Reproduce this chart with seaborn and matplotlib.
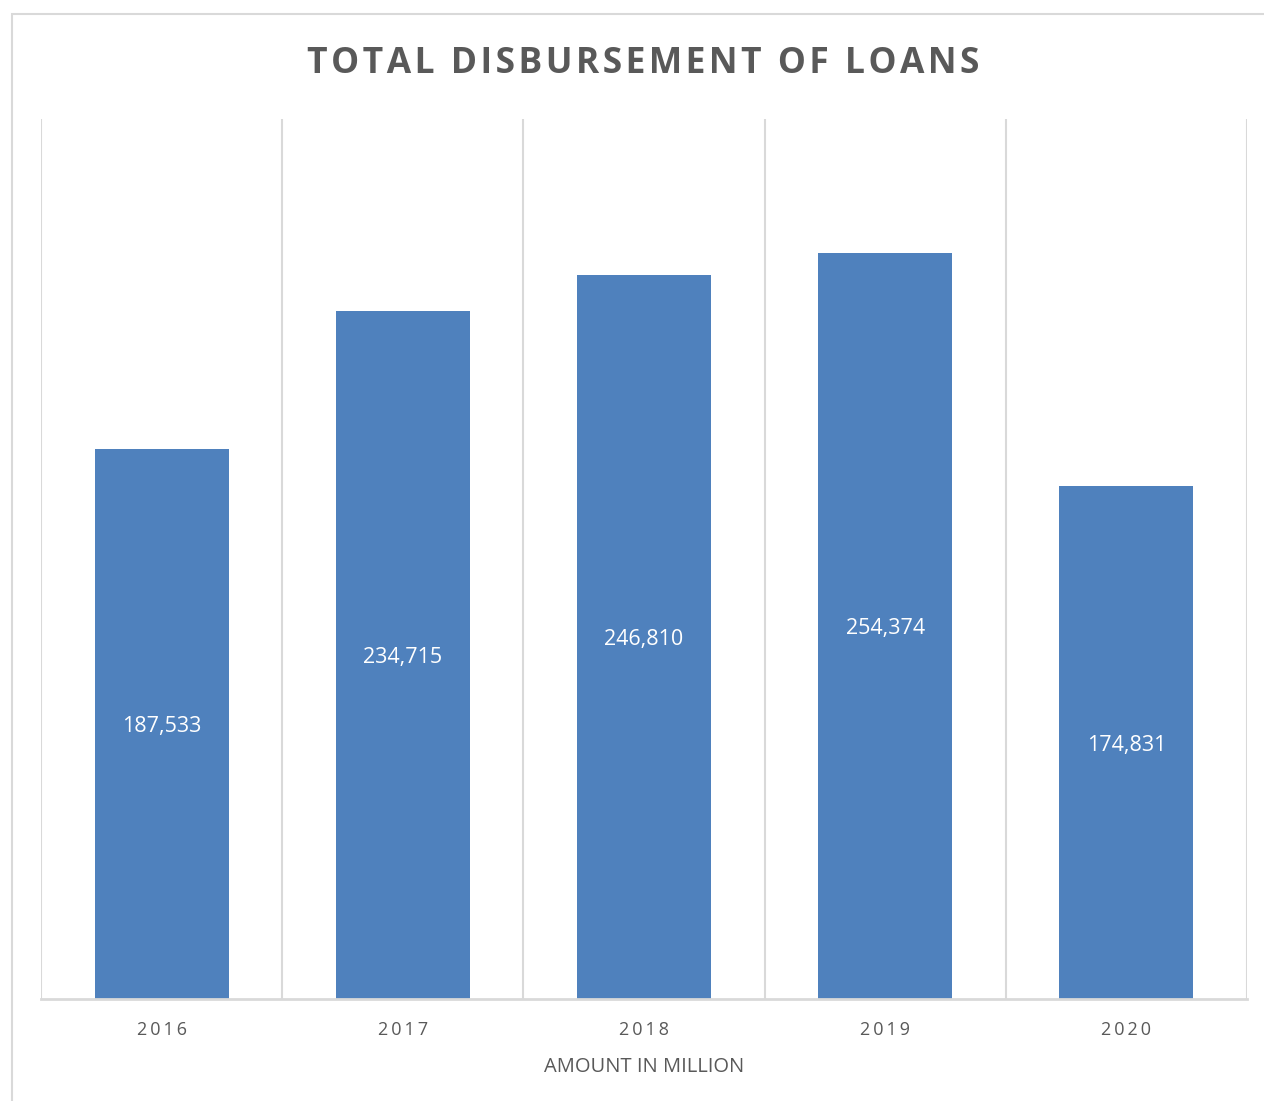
import matplotlib
matplotlib.use("Agg")
import matplotlib.pyplot as plt
import seaborn as sns
import pandas as pd
from matplotlib.patches import Rectangle

years = ["2016", "2017", "2018", "2019", "2020"]
amounts = [187533, 234715, 246810, 254374, 174831]
title = "TOTAL DISBURSEMENT OF LOANS"
xlabel = "AMOUNT IN MILLION"

sns.set_theme(style="white")
plt.rcParams['font.family'] = ['Open Sans', 'DejaVu Sans']

W, H = 1264, 1101
fig = plt.figure(figsize=(W / 100, H / 100), dpi=100)
ax = fig.add_axes([41 / W, 1 - 999 / H, (1247 - 41) / W, (999 - 119) / H])

df = pd.DataFrame({"year": years, "amount": amounts})
sns.barplot(data=df, x="year", y="amount", color="#4f81bd", saturation=1,
            width=0.556, ax=ax, edgecolor="none")

ax.set_ylim(0, 300000)
ax.set_xlim(-0.5, len(years) - 0.5)

grid_c = "#d9d9d9"
for b in range(len(years) + 1):
    ax.axvline(b - 0.5, color=grid_c, lw=1.5, zorder=0)

for s in ["top", "right", "left"]:
    ax.spines[s].set_visible(False)
ax.spines["bottom"].set_color(grid_c)
ax.spines["bottom"].set_linewidth(2)

ax.set_yticks([])
ax.set_ylabel("")
spaced = ["\u2009".join(list(y)) for y in years]
ax.set_xticks(range(len(years)))
ax.set_xticklabels(spaced, fontsize=13, color="#595959")
ax.tick_params(axis="x", length=0, pad=16)
ax.set_xlabel(xlabel, fontsize=14.5, color="#595959", labelpad=13)

for i, v in enumerate(amounts):
    ax.text(i, v / 2, f"{v:,}", ha="center", va="center_baseline", color="white", fontsize=15.5)

fig.text(643 / W, 1 - 64 / H, "\u200a".join(list(title)),
         ha="center", va="center", fontsize=25.5, fontweight="bold", color="#595959")

fig.patches.append(Rectangle((12 / W, -0.1), 2, 1 - 14 / H + 0.1, transform=fig.transFigure,
                             fill=False, edgecolor=grid_c, lw=1.5))

fig.savefig("out.png", dpi=100, facecolor="white")
